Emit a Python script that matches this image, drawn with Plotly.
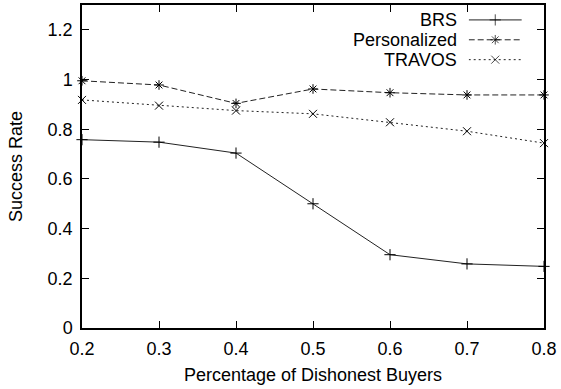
import plotly.graph_objects as go

# Fraction of dishonest buyers in the market
dishonest = [0.2, 0.3, 0.4, 0.5, 0.6, 0.7, 0.8]

# Success rate of each model
brs = [0.758, 0.748, 0.704, 0.500, 0.295, 0.258, 0.248]
personalized = [0.995, 0.978, 0.904, 0.962, 0.947, 0.938, 0.938]
travos = [0.918, 0.895, 0.875, 0.862, 0.828, 0.792, 0.744]

series_names = ["BRS", "Personalized", "TRAVOS"]
y_ticks = [0, 0.2, 0.4, 0.6, 0.8, 1.0, 1.2]
y_tick_text = ["0", "0.2", "0.4", "0.6", "0.8", "1", "1.2"]
x_ticks = [0.2, 0.3, 0.4, 0.5, 0.6, 0.7, 0.8]
x_tick_text = ["0.2", "0.3", "0.4", "0.5", "0.6", "0.7", "0.8"]

FONT = "Liberation Sans, Arial, sans-serif"
FS = 18
INK = "#000000"
LINE = "#222222"

styles = [
    dict(dash="solid", symbol="cross-thin-open"),
    dict(dash="6px,3px", symbol="asterisk-open"),
    dict(dash="2px,3px", symbol="x-thin-open"),
]

fig = go.Figure()
for name, ys, st in zip(series_names, [brs, personalized, travos], styles):
    fig.add_trace(go.Scatter(
        x=dishonest, y=ys, name=name, mode="lines+markers",
        line=dict(color=LINE, width=1, dash=st["dash"]),
        marker=dict(symbol=st["symbol"], size=8, color=INK,
                    line=dict(color=INK, width=1)),
        cliponaxis=False, showlegend=False,
    ))

# Key in the top-right corner: right-aligned label, then a line sample
key_rows = [0.5, 1.5, 2.5]
for name, row, st in zip(series_names, key_rows, styles):
    fig.add_trace(go.Scatter(
        x=[0, 0.5, 1], y=[row] * 3, mode="lines+markers",
        line=dict(color=LINE, width=1, dash=st["dash"]),
        marker=dict(symbol=st["symbol"], size=[0, 8, 0], color=INK,
                    line=dict(color=INK, width=1)),
        xaxis="x2", yaxis="y2", showlegend=False, hoverinfo="skip",
        cliponaxis=False,
    ))
    fig.add_annotation(
        x=0, y=row, xref="x2", yref="y2", text=name, showarrow=False,
        xanchor="right", yanchor="middle", xshift=-10,
        font=dict(family=FONT, size=FS, color=INK),
    )

axis_common = dict(
    showline=True, linecolor=INK, linewidth=1.5, mirror="ticks",
    ticks="inside", ticklen=7, tickwidth=1, tickcolor=INK,
    showgrid=False, zeroline=False,
    tickfont=dict(family=FONT, size=FS, color=INK),
)

fig.update_layout(
    width=561, height=389,
    margin=dict(l=82, r=17, t=3, b=61),
    paper_bgcolor="white", plot_bgcolor="white",
    xaxis=dict(range=[0.2, 0.8], tickvals=x_ticks, ticktext=x_tick_text,
               ticklabelstandoff=4,
               title=dict(text="Percentage of Dishonest Buyers",
                          font=dict(family=FONT, size=FS, color=INK),
                          standoff=10),
               **axis_common),
    yaxis=dict(range=[0, 1.3], tickvals=y_ticks, ticktext=y_tick_text,
               ticklabelstandoff=4,
               title=dict(text="Success Rate",
                          font=dict(family=FONT, size=FS, color=INK),
                          standoff=20),
               **axis_common),
    xaxis2=dict(domain=[0.837, 0.952], range=[0, 1], visible=False,
                anchor="y2"),
    yaxis2=dict(domain=[0.80, 0.9846], range=[3, 0], visible=False,
                anchor="x2"),
    showlegend=False,
)

fig.write_html("out.html")
